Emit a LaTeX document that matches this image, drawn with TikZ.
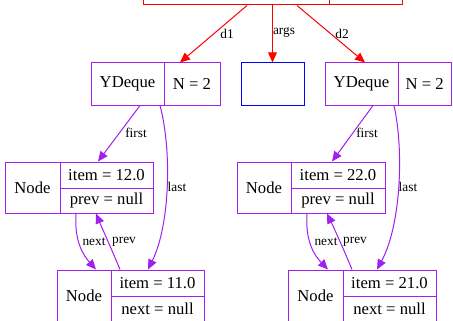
\documentclass[tikz,border=0pt]{standalone}
\usepackage{fontspec}
\setmainfont{Liberation Serif}
\usetikzlibrary{arrows.meta,calc}
\definecolor{xpurple}{RGB}{160,32,240}
\definecolor{xred}{RGB}{255,0,0}
\definecolor{xblue}{RGB}{0,0,255}
\tikzset{
  cell/.style={draw, line width=0.75pt, inner sep=0pt, font=\fontsize{12.5}{14}\selectfont},
  pcell/.style={cell, draw=xpurple},
  rcell/.style={cell, draw=xred},
  bcell/.style={cell, draw=xblue},
  lbl/.style={inner sep=0pt, font=\fontsize{10}{12}\selectfont},
  redge/.style={draw=xred, line width=0.75pt, -{Triangle[length=7.5pt,width=6.5pt]}},
  pedge/.style={draw=xpurple, line width=0.75pt, -{Triangle[length=7.5pt,width=6.5pt]}},
}
\begin{document}
\begin{tikzpicture}[x=0.75pt,y=-0.75pt]
\clip (0,0) rectangle (453,321);
\fill[white] (0,0) rectangle (453,321);
% top record
\node[rcell, minimum width=186*0.75pt, minimum height=42*0.75pt] (topa) at (236,-16) {};
\node[rcell, minimum width=73*0.75pt, minimum height=42*0.75pt] (topb) at (365.5,-16) {};
% YDeque 1
\node[pcell, minimum width=73*0.75pt, minimum height=42*0.75pt] (dqa) at (127.5,84) {YDeque};
\node[pcell, minimum width=56*0.75pt, minimum height=42*0.75pt] (dqb) at (192,84) {N = 2};
% blue box
\node[bcell, minimum width=63*0.75pt, minimum height=42*0.75pt] (args) at (272.5,84) {};
% YDeque 2
\node[pcell, minimum width=73*0.75pt, minimum height=42*0.75pt] (eqa) at (361.5,84) {YDeque};
\node[pcell, minimum width=53.5*0.75pt, minimum height=42*0.75pt] (eqb) at (424.75,84) {N = 2};
% Node 1 (12.0)
\node[pcell, minimum width=55*0.75pt, minimum height=51*0.75pt] (n1a) at (32.5,187.5) {Node};
\node[pcell, minimum width=93*0.75pt, minimum height=26*0.75pt] (n1b) at (106.5,175) {item = 12.0};
\node[pcell, minimum width=93*0.75pt, minimum height=25*0.75pt] (n1c) at (106.5,200.5) {prev = null};
% Node 2 (11.0)
\node[pcell, minimum width=54*0.75pt, minimum height=52*0.75pt] (n2a) at (84,296) {Node};
\node[pcell, minimum width=93*0.75pt, minimum height=26*0.75pt] (n2b) at (157.5,283) {item = 11.0};
\node[pcell, minimum width=93*0.75pt, minimum height=26*0.75pt] (n2c) at (157.5,309) {next = null};
% Node 3 (22.0)
\node[pcell, minimum width=54*0.75pt, minimum height=51*0.75pt] (n3a) at (264,187.5) {Node};
\node[pcell, minimum width=94*0.75pt, minimum height=26*0.75pt] (n3b) at (338,175) {item = 22.0};
\node[pcell, minimum width=94*0.75pt, minimum height=25*0.75pt] (n3c) at (338,200.5) {prev = null};
% Node 4 (21.0)
\node[pcell, minimum width=55*0.75pt, minimum height=52*0.75pt] (n4a) at (315.5,296) {Node};
\node[pcell, minimum width=93*0.75pt, minimum height=26*0.75pt] (n4b) at (389.5,283) {item = 21.0};
\node[pcell, minimum width=93*0.75pt, minimum height=26*0.75pt] (n4c) at (389.5,309) {next = null};
% red edges
\draw[redge] ($(topa.south)+(11,0)$) -- ($(dqb.north)+(-12,0)$);
\draw[redge] ($(topa.south)+(36.5,0)$) -- (args.north);
\draw[redge] ($(topa.south)+(61,0)$) -- ($(eqa.north)+(3.5,0)$);
\node[lbl] (ld1) at (227,34) {d1};
\node[lbl] (largs) at (284,33) {args};
\node[lbl] (ld2) at (342,34) {d2};
% left purple edges
\draw[pedge] ($(dqa.south)+(12.5,0)$) -- ($(n1b.north)+(-8.5,0)$);
\draw[pedge] ($(dqa.south)+(32.5,0)$) .. controls (172,150) and (170,225) .. ($(n2b.north)+(-9.5,0)$);
\draw[pedge] ($(n1c.south)+(-30.5,0)$) .. controls (74,242) and (84,256) .. ($(n2a.north)+(12,0)$);
\draw[pedge] ($(n2b.north)+(-37.5,0)$) .. controls (112,250) and (102,228) .. ($(n1c.south)+(-10.5,0)$);
\node[lbl] (lf1) at (136,133) {first};
\node[lbl] (ll1) at (177,187) {last};
\node[lbl] (ln1) at (94,242) {next};
\node[lbl] (lp1) at (124,242) {prev};
% right purple edges
\draw[pedge] ($(eqa.south)+(11.5,0)$) -- ($(n3b.north)+(-6,0)$);
\draw[pedge] ($(eqa.south)+(32.5,0)$) .. controls (404,150) and (401,225) .. ($(n4b.north)+(-12.5,0)$);
\draw[pedge] ($(n3c.south)+(-31,0)$) .. controls (305,242) and (315,256) .. ($(n4a.north)+(12.5,0)$);
\draw[pedge] ($(n4b.north)+(-37.5,0)$) .. controls (344,250) and (334,228) .. ($(n3c.south)+(-11,0)$);
\node[lbl] (lf2) at (367,133) {first};
\node[lbl] (ll2) at (408,187) {last};
\node[lbl] (ln2) at (326,242) {next};
\node[lbl] (lp2) at (355,242) {prev};
\end{tikzpicture}
\end{document}
